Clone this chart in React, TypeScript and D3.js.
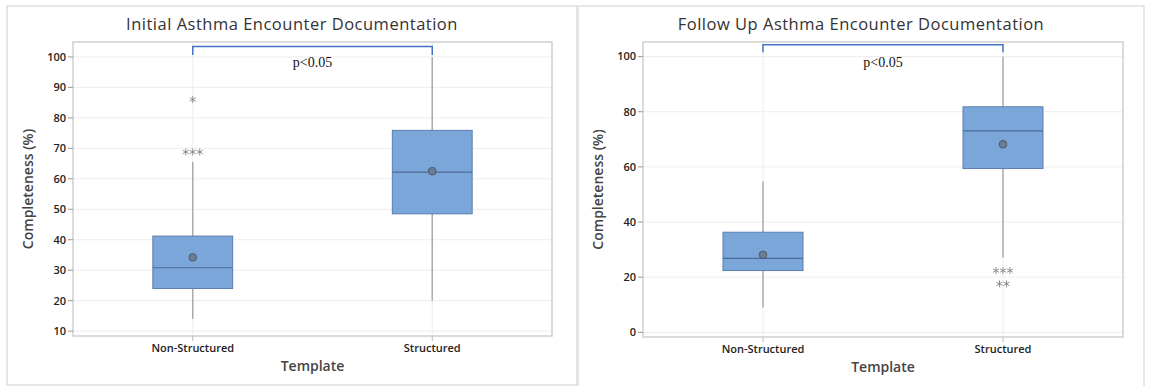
import * as d3 from "d3";

// categories on the x axis
const categories = ["Non-Structured", "Structured"];

// Initial encounter summary stats (per category)
const initialLow = [14, 20];
const initialQ1 = [24, 48.5];
const initialMedian = [30.8, 62.2];
const initialQ3 = [41.2, 75.9];
const initialHigh = [65.5, 100];
const initialMean = [34.2, 62.5];
const initialOutliers = [[86, 68.8, 68.8, 68.8], []];
const initialTicks = [10, 20, 30, 40, 50, 60, 70, 80, 90, 100];

// Follow up encounter summary stats
const followLow = [9, 27];
const followQ1 = [22.4, 59.4];
const followMedian = [26.8, 73.1];
const followQ3 = [36.3, 81.8];
const followHigh = [54.8, 100];
const followMean = [28.1, 68.2];
const followOutliers = [[], [22.4, 22.4, 22.4, 17.6, 17.6]];
const followTicks = [0, 20, 40, 60, 80, 100];

const sans = "'Open Sans', 'Noto Sans', sans-serif";

type PanelProps = {
  title: string;
  outer: { x: number; y: number; w: number; h: number };
  plot: { x: number; y: number; w: number; h: number };
  yDomain: [number, number];
  ticks: number[];
  low: number[];
  q1: number[];
  median: number[];
  q3: number[];
  high: number[];
  mean: number[];
  outliers: number[][];
  bracket: [number, number];
};

const Panel = (p: PanelProps) => {
  const { plot } = p;
  const x = d3
    .scalePoint<string>()
    .domain(categories)
    .range([plot.x, plot.x + plot.w])
    .padding(0.5);
  const y = d3
    .scaleLinear()
    .domain(p.yDomain)
    .range([plot.y + plot.h, plot.y]);
  const boxW = x.step() / 3;
  const star = d3.symbol(d3.symbolAsterisk, 34)();
  const bottom = plot.y + plot.h;
  const cx = plot.x + plot.w / 2;

  return (
    <g>
      <rect
        x={p.outer.x}
        y={p.outer.y}
        width={p.outer.w}
        height={p.outer.h}
        fill="#fff"
        stroke="#e0e0e0"
        strokeWidth={1.5}
      />
      <text
        x={p.outer.x + p.outer.w / 2}
        y={30}
        textAnchor="middle"
        fontFamily={sans}
        fontSize={16.5}
        fontWeight={500}
        letterSpacing={0.5}
        fill="#333"
      >
        {p.title}
      </text>

      {/* grid */}
      {p.ticks.map((t) => (
        <line
          key={"g" + t}
          x1={plot.x}
          x2={plot.x + plot.w}
          y1={y(t)}
          y2={y(t)}
          stroke="#ededed"
        />
      ))}
      {categories.map((c) => (
        <line
          key={"v" + c}
          x1={x(c)}
          x2={x(c)}
          y1={plot.y}
          y2={bottom}
          stroke="#eeeeee"
        />
      ))}
      <rect
        x={plot.x}
        y={plot.y}
        width={plot.w}
        height={plot.h}
        fill="none"
        stroke="#cfcfcf"
        strokeWidth={1.5}
      />

      {/* y axis */}
      {p.ticks.map((t) => (
        <g key={"t" + t}>
          <line x1={plot.x - 5} x2={plot.x} y1={y(t)} y2={y(t)} stroke="#999" />
          <text
            x={plot.x - 7}
            y={y(t)}
            dy="0.35em"
            textAnchor="end"
            fontFamily={sans}
            fontSize={11}
            fontWeight={600}
            fill="#222"
          >
            {t}
          </text>
        </g>
      ))}
      <text
        transform={`translate(${plot.x - 40},${plot.y + plot.h / 2}) rotate(-90)`}
        textAnchor="middle"
        fontFamily={sans}
        fontSize={14}
        fontWeight={600}
        fill="#444"
      >
        Completeness (%)
      </text>

      {/* x axis */}
      {categories.map((c) => (
        <g key={"x" + c}>
          <line x1={x(c)} x2={x(c)} y1={bottom} y2={bottom + 5} stroke="#bbb" />
          <text
            x={x(c)}
            y={bottom + 16}
            textAnchor="middle"
            fontFamily={sans}
            fontSize={11}
            fontWeight={600}
            fill="#222"
          >
            {c}
          </text>
        </g>
      ))}
      <text
        x={cx}
        y={bottom + 35}
        textAnchor="middle"
        fontFamily={sans}
        fontSize={14}
        fontWeight={600}
        fill="#444"
      >
        Template
      </text>

      {/* boxes */}
      {categories.map((c, i) => {
        const xc = x(c) as number;
        const groups = d3.groups(p.outliers[i], (v) => v);
        return (
          <g key={"b" + c}>
            <line x1={xc} x2={xc} y1={y(p.high[i])} y2={y(p.q3[i])} stroke="#ababab" strokeWidth={1.5} />
            <line x1={xc} x2={xc} y1={y(p.q1[i])} y2={y(p.low[i])} stroke="#ababab" strokeWidth={1.5} />
            <rect
              x={xc - boxW / 2}
              y={y(p.q3[i])}
              width={boxW}
              height={y(p.q1[i]) - y(p.q3[i])}
              fill="#7ba6da"
              stroke="#5a7eae"
              strokeWidth={1}
            />
            <line
              x1={xc - boxW / 2}
              x2={xc + boxW / 2}
              y1={y(p.median[i])}
              y2={y(p.median[i])}
              stroke="#4c6c98"
              strokeWidth={1.2}
            />
            <circle cx={xc} cy={y(p.mean[i])} r={3.8} fill="#6d7d94" stroke="#4d5868" strokeWidth={1} />
            {groups.map(([v, vals]) =>
              vals.map((_, k) => (
                <path
                  key={v + "-" + k}
                  d={star as string}
                  transform={`translate(${xc + (k - (vals.length - 1) / 2) * 7},${y(v)})`}
                  fill="#777"
                  stroke="#777"
                  strokeWidth={0.8}
                />
              ))
            )}
          </g>
        );
      })}

      {/* significance bracket */}
      <path
        d={`M${x(categories[0])},${y(p.bracket[1])}V${y(p.bracket[0])}H${x(categories[1])}V${y(p.bracket[1])}`}
        fill="none"
        stroke="#4472c4"
        strokeWidth={1.5}
      />
      <text
        x={cx}
        y={67}
        textAnchor="middle"
        fontFamily="'Liberation Serif', 'Times New Roman', serif"
        fontSize={14}
        fill="#111"
      >
        p&lt;0.05
      </text>
    </g>
  );
};

export default function App() {
  return (
    <svg
      width={1149}
      height={386}
      style={{ position: "absolute", left: 0, top: 0, display: "block" }}
    >
      <rect width={1149} height={386} fill="#fff" />
      <Panel
        title="Initial Asthma Encounter Documentation"
        outer={{ x: 7, y: 6, w: 570, h: 379 }}
        plot={{ x: 73, y: 42, w: 479, h: 294 }}
        yDomain={[8.4, 104.9]}
        ticks={initialTicks}
        low={initialLow}
        q1={initialQ1}
        median={initialMedian}
        q3={initialQ3}
        high={initialHigh}
        mean={initialMean}
        outliers={initialOutliers}
        bracket={[103.4, 100.6]}
      />
      <Panel
        title="Follow Up Asthma Encounter Documentation"
        outer={{ x: 578, y: 6, w: 566, h: 381 }}
        plot={{ x: 643, y: 42, w: 480, h: 295 }}
        yDomain={[-1.7, 105.3]}
        ticks={followTicks}
        low={followLow}
        q1={followQ1}
        median={followMedian}
        q3={followQ3}
        high={followHigh}
        mean={followMean}
        outliers={followOutliers}
        bracket={[104.3, 101.6]}
      />
    </svg>
  );
}
